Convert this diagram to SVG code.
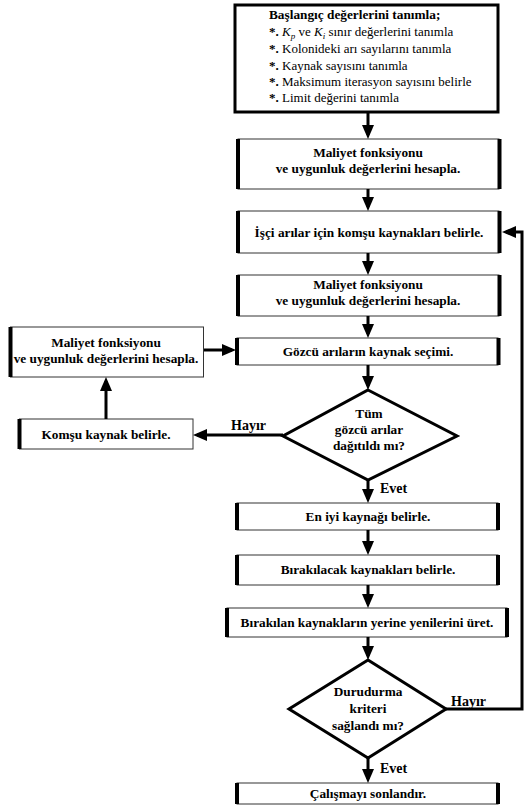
<svg xmlns="http://www.w3.org/2000/svg" width="525" height="808" viewBox="0 0 525 808">
<style>
text{font-family:'Liberation Serif','Times New Roman',serif;fill:#000}
.b{font-weight:bold;font-size:13.3px}
.c{text-anchor:middle}
.r{font-size:13px}
.lbl{font-weight:bold;font-size:14px}
.box{fill:#fff;stroke:#333;stroke-width:1}
.bar{stroke:#000;stroke-width:4}
.dia{fill:#fff;stroke:#000;stroke-width:3;stroke-linejoin:miter}
.ln{fill:none;stroke:#000;stroke-width:3}
</style>
<defs>
<marker id="ah" markerUnits="userSpaceOnUse" markerWidth="14" markerHeight="12" refX="10" refY="6" orient="auto">
<path d="M0,0 L14,6 L0,12 z" fill="#000"/>
</marker>
</defs>

<g id="start">
<rect x="235" y="5" width="263" height="107" fill="#fff" stroke="#000" stroke-width="3"/>
<text class="b" x="269" y="19">Başlangıç değerlerini tanımla;</text>
<text class="r" x="269" y="36"><tspan font-weight="bold">*.</tspan> <tspan font-style="italic">K</tspan><tspan font-style="italic" font-size="9" dy="3">p</tspan><tspan dy="-3"> ve </tspan><tspan font-style="italic">K</tspan><tspan font-style="italic" font-size="9" dy="3">i</tspan><tspan dy="-3"> sınır değerlerini tanımla</tspan></text>
<text class="r" x="269" y="53"><tspan font-weight="bold">*.</tspan> Kolonideki arı sayılarını tanımla</text>
<text class="r" x="269" y="70"><tspan font-weight="bold">*.</tspan> Kaynak sayısını tanımla</text>
<text class="r" x="269" y="86"><tspan font-weight="bold">*.</tspan> Maksimum iterasyon sayısını belirle</text>
<text class="r" x="269" y="102"><tspan font-weight="bold">*.</tspan> Limit değerini tanımla</text>
</g>

<g id="cost1">
<rect class="box" x="238" y="139" width="261" height="50"/>
<line class="bar" x1="238" y1="139" x2="238" y2="189"/>
<line class="bar" x1="499.5" y1="139" x2="499.5" y2="189"/>
<text class="b c" x="368" y="157">Maliyet fonksiyonu</text>
<text class="b c" x="368" y="173">ve uygunluk değerlerini hesapla.</text>
</g>

<g id="employed">
<rect class="box" x="238" y="211" width="261" height="42"/>
<line class="bar" x1="238" y1="211" x2="238" y2="253"/>
<line class="bar" x1="499.5" y1="211" x2="499.5" y2="253"/>
<text class="b c" x="369" y="237">İşçi arılar için komşu kaynakları belirle.</text>
</g>

<g id="cost2">
<rect class="box" x="238" y="275" width="261" height="41"/>
<line class="bar" x1="238" y1="275" x2="238" y2="316"/>
<line class="bar" x1="499.5" y1="275" x2="499.5" y2="316"/>
<text class="b c" x="368" y="289">Maliyet fonksiyonu</text>
<text class="b c" x="368" y="305">ve uygunluk değerlerini hesapla.</text>
</g>

<g id="onlooker">
<rect class="box" x="237" y="338" width="261" height="27"/>
<line class="bar" x1="237" y1="338" x2="237" y2="365"/>
<line class="bar" x1="498.5" y1="338" x2="498.5" y2="365"/>
<text class="b c" x="368" y="356">Gözcü arıların kaynak seçimi.</text>
</g>

<g id="decision1">
<polygon class="dia" points="368,390 457,436 368,480 283,436"/>
<text class="b c" x="369" y="418">Tüm</text>
<text class="b c" x="369" y="434">gözcü arılar</text>
<text class="b c" x="369" y="450">dağıtıldı mı?</text>
</g>

<g id="cost3">
<rect class="box" x="10.5" y="327" width="193" height="50"/>
<line class="bar" x1="10.5" y1="327" x2="10.5" y2="377"/>
<text class="b c" x="106" y="347">Maliyet fonksiyonu</text>
<text class="b c" x="106" y="363">ve uygunluk değerlerini hesapla.</text>
</g>

<g id="neighbor">
<rect class="box" x="19.5" y="419" width="173.5" height="30"/>
<line class="bar" x1="19.5" y1="419" x2="19.5" y2="449"/>
<text class="b c" x="106" y="439">Komşu kaynak belirle.</text>
</g>

<g id="best">
<rect class="box" x="237" y="503" width="261" height="27"/>
<line class="bar" x1="237" y1="503" x2="237" y2="530"/>
<line class="bar" x1="498" y1="503" x2="498" y2="530"/>
<text class="b c" x="368" y="521">En iyi kaynağı belirle.</text>
</g>

<g id="abandon">
<rect class="box" x="237" y="555" width="261" height="30"/>
<line class="bar" x1="237" y1="555" x2="237" y2="585"/>
<line class="bar" x1="498" y1="555" x2="498" y2="585"/>
<text class="b c" x="368" y="574">Bırakılacak kaynakları belirle.</text>
</g>

<g id="regenerate">
<rect class="box" x="227" y="608" width="280" height="29"/>
<line class="bar" x1="227" y1="608" x2="227" y2="637"/>
<line class="bar" x1="507" y1="608" x2="507" y2="637"/>
<text class="b c" x="367" y="627">Bırakılan kaynakların yerine yenilerini üret.</text>
</g>

<g id="decision2">
<polygon class="dia" points="368,660 446,709 368,758 289,709"/>
<text class="b c" x="368" y="696">Durudurma</text>
<text class="b c" x="368" y="713">kriteri</text>
<text class="b c" x="368" y="730">sağlandı mı?</text>
</g>

<g id="end">
<rect class="box" x="237" y="783" width="261" height="21"/>
<line class="bar" x1="237" y1="783" x2="237" y2="804"/>
<line class="bar" x1="498" y1="783" x2="498" y2="804"/>
<text class="b c" x="368" y="798">Çalışmayı sonlandır.</text>
</g>

<g id="connectors">
<line class="ln" x1="368" y1="113" x2="368" y2="135" marker-end="url(#ah)"/>
<line class="ln" x1="368" y1="189" x2="368" y2="207" marker-end="url(#ah)"/>
<line class="ln" x1="368" y1="253" x2="368" y2="271" marker-end="url(#ah)"/>
<line class="ln" x1="368" y1="316" x2="368" y2="334" marker-end="url(#ah)"/>
<line class="ln" x1="368" y1="365" x2="368" y2="386" marker-end="url(#ah)"/>
<line class="ln" x1="368" y1="480" x2="368" y2="499" marker-end="url(#ah)"/>
<line class="ln" x1="368" y1="530" x2="368" y2="551" marker-end="url(#ah)"/>
<line class="ln" x1="368" y1="585" x2="368" y2="604" marker-end="url(#ah)"/>
<line class="ln" x1="368" y1="637" x2="368" y2="656" marker-end="url(#ah)"/>
<line class="ln" x1="368" y1="758" x2="368" y2="779" marker-end="url(#ah)"/>
<line class="ln" x1="283" y1="435" x2="197" y2="435" marker-end="url(#ah)"/>
<line class="ln" x1="106" y1="419" x2="106" y2="381" marker-end="url(#ah)"/>
<line class="ln" x1="204" y1="350" x2="232" y2="350" marker-end="url(#ah)"/>
<polyline class="ln" points="446,709 522,709 522,232 506,232" marker-end="url(#ah)"/>
<text class="lbl" x="231" y="430">Hayır</text>
<text class="lbl" x="380" y="493">Evet</text>
<text class="lbl" x="451" y="706">Hayır</text>
<text class="lbl" x="380" y="773">Evet</text>
</g>
</svg>
